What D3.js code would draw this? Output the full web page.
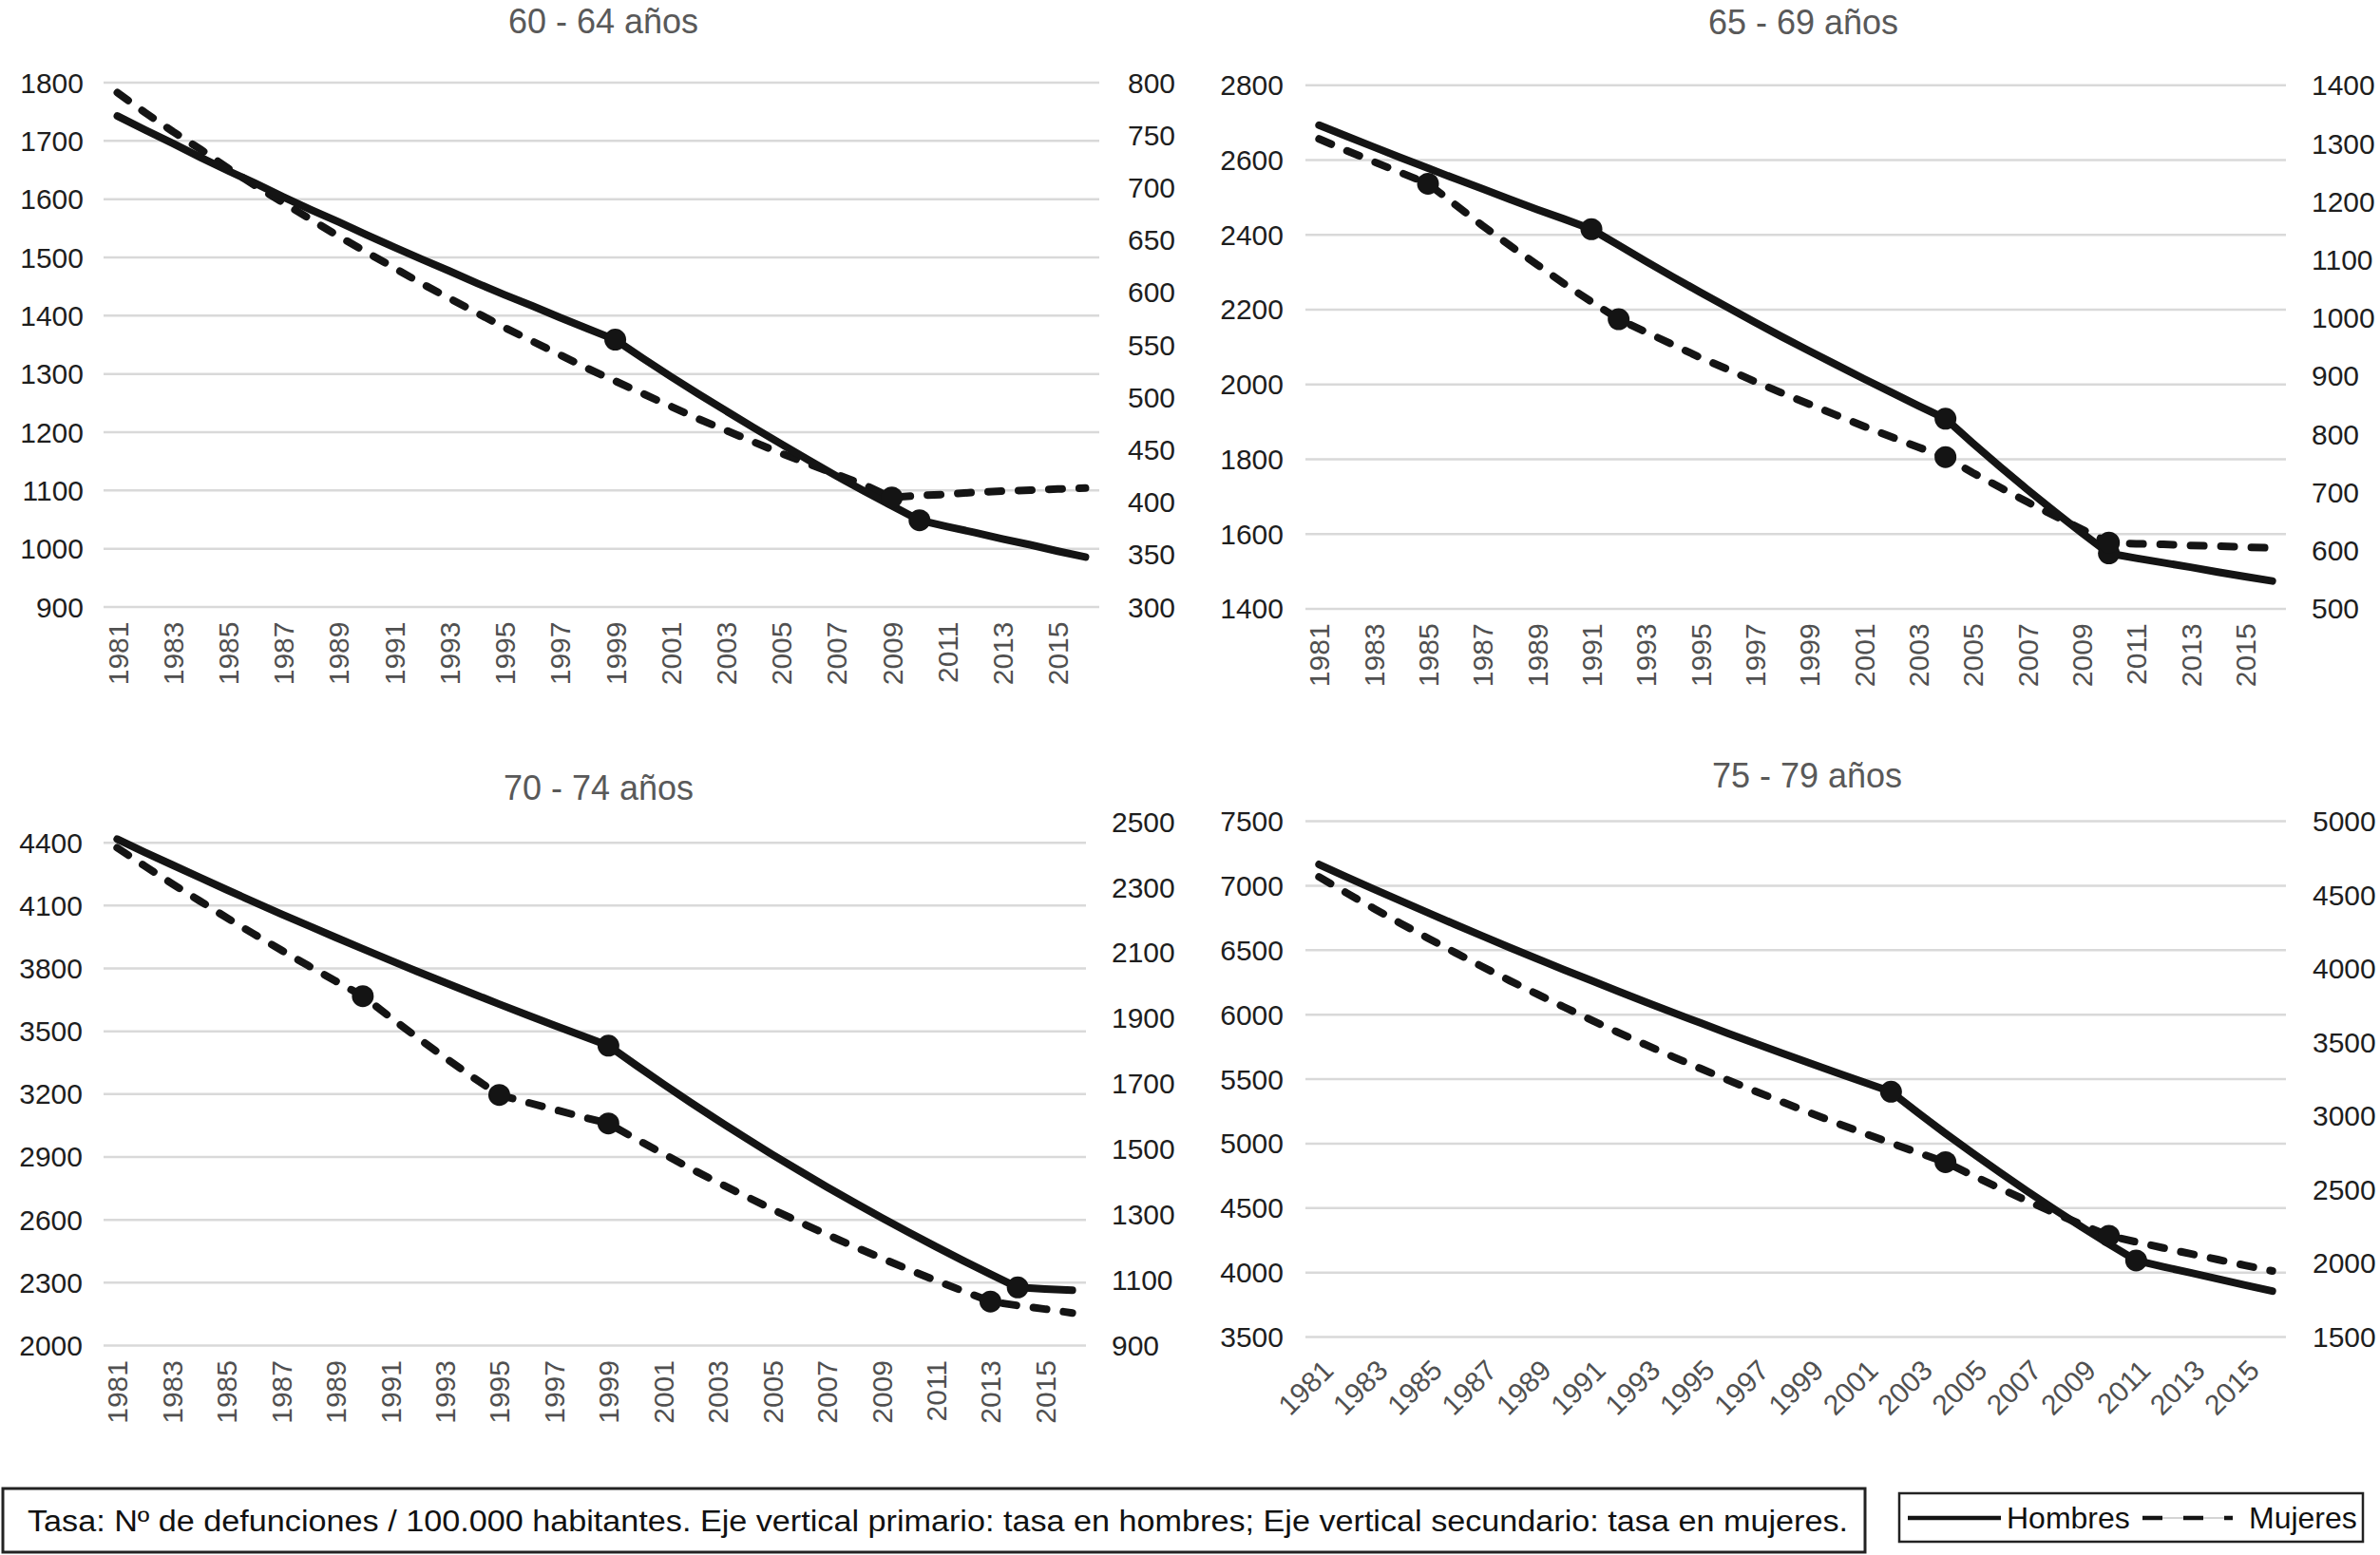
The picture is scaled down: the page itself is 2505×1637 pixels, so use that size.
<!DOCTYPE html>
<html><head><meta charset="utf-8">
<script src="https://cdn.jsdelivr.net/npm/d3@7"></script>
<style>
body{margin:0;background:#fff}
svg{display:block}
text{font-family:"Liberation Sans",Arial,Helvetica,sans-serif}
</style>
</head><body>
<svg id="chart" width="2505" height="1637"></svg>
<script>
// ---------------- DATA ----------------
const years = [1981,1982,1983,1984,1985,1986,1987,1988,1989,1990,1991,1992,1993,1994,1995,1996,1997,1998,1999,2000,2001,2002,2003,2004,2005,2006,2007,2008,2009,2010,2011,2012,2013,2014,2015,2016];
const xTickYears = [1981,1983,1985,1987,1989,1991,1993,1995,1997,1999,2001,2003,2005,2007,2009,2011,2013,2015];
const titles = ["60 - 64 años","65 - 69 años","70 - 74 años","75 - 79 años"];
const seriesNames = ["Hombres","Mujeres"];

const hombres6064 = [1742,1718,1695,1671,1648,1626,1603,1581,1560,1538,1517,1496,1476,1455,1435,1416,1396,1377,1358,1326,1295,1265,1236,1207,1179,1151,1124,1098,1073,1048,1037,1027,1016,1006,995,985];
const mujeres6064 = [790,771,753,736,718,701,685,669,653,638,623,608,594,580,566,553,540,527,515,503,491,479,468,457,446,436,426,416,404,406,407,409,410,411,412,413];
const hombres6569 = [2692,2663,2634,2605,2577,2549,2522,2494,2467,2441,2414,2371,2328,2286,2245,2205,2165,2126,2088,2051,2014,1978,1942,1907,1842,1779,1718,1659,1602,1547,1534,1522,1510,1497,1485,1473];
const mujeres6569 = [1307,1287,1268,1249,1230,1194,1158,1124,1091,1058,1027,997,975,953,931,911,890,870,851,832,813,795,777,760,733,708,683,659,636,613,611,610,608,607,605,604];
const hombres7074 = [4415,4353,4293,4233,4174,4116,4058,4002,3946,3891,3837,3783,3731,3679,3627,3577,3527,3478,3429,3337,3247,3159,3074,2991,2910,2832,2755,2681,2609,2538,2470,2403,2338,2275,2268,2262];
const mujeres7074 = [2419,2364,2310,2258,2206,2156,2107,2059,2012,1966,1902,1839,1779,1720,1664,1642,1620,1598,1577,1530,1485,1440,1397,1356,1315,1276,1238,1201,1166,1131,1097,1065,1033,1021,1010,998];
const hombres7579 = [7161,7065,6971,6878,6786,6695,6606,6517,6430,6344,6260,6176,6093,6012,5932,5852,5774,5697,5621,5546,5472,5398,5234,5075,4921,4772,4627,4486,4350,4218,4090,4041,3994,3946,3899,3853];
const mujeres7579 = [4619,4511,4406,4303,4203,4105,4009,3915,3824,3735,3647,3562,3479,3398,3319,3241,3166,3092,3020,2949,2880,2813,2747,2683,2593,2505,2421,2339,2260,2184,2142,2101,2061,2022,1983,1945];

// joinpoint years (markers)
const joinH6064 = [1999,2010];
const joinM6064 = [2009];
const joinH6569 = [1991,2004,2010];
const joinM6569 = [1985,1992,2004,2010];
const joinH7074 = [1999,2014];
const joinM7074 = [1990,1995,1999,2013];
const joinH7579 = [2002,2011];
const joinM7579 = [2004,2010];

// axis ticks
const leftTicks6064 = [900,1000,1100,1200,1300,1400,1500,1600,1700,1800];
const rightTicks6064 = [300,350,400,450,500,550,600,650,700,750,800];
const leftTicks6569 = [1400,1600,1800,2000,2200,2400,2600,2800];
const rightTicks6569 = [500,600,700,800,900,1000,1100,1200,1300,1400];
const leftTicks7074 = [2000,2300,2600,2900,3200,3500,3800,4100,4400];
const rightTicks7074 = [900,1100,1300,1500,1700,1900,2100,2300,2500];
const leftTicks7579 = [3500,4000,4500,5000,5500,6000,6500,7000,7500];
const rightTicks7579 = [1500,2000,2500,3000,3500,4000,4500,5000];
const leftDomain7074 = [2000,4500];

const footnote = "Tasa: Nº de defunciones / 100.000 habitantes. Eje vertical primario: tasa en hombres; Eje vertical secundario: tasa en mujeres.";

// ---------------- LAYOUT ----------------
const panels = [
  {title:titles[0], h:hombres6064, m:mujeres6064, jh:joinH6064, jm:joinM6064,
   lt:leftTicks6064, rt:rightTicks6064, ld:[900,1800], rd:[300,800],
   x0:109, x1:1157, yTop:86.5, yBot:638.5, lx:88, rx:1187, tx:635, ty:22, rot:-90},
  {title:titles[1], h:hombres6569, m:mujeres6569, jh:joinH6569, jm:joinM6569,
   lt:leftTicks6569, rt:rightTicks6569, ld:[1400,2800], rd:[500,1400],
   x0:1374, x1:2406, yTop:89.3, yBot:640.4, lx:1351, rx:2433, tx:1898, ty:23, rot:-90},
  {title:titles[2], h:hombres7074, m:mujeres7074, jh:joinH7074, jm:joinM7074,
   lt:leftTicks7074, rt:rightTicks7074, ld:leftDomain7074, rd:[900,2500],
   x0:109, x1:1143, yTop:864.6, yBot:1416, lx:87, rx:1170, tx:630, ty:829, rot:-90},
  {title:titles[3], h:hombres7579, m:mujeres7579, jh:joinH7579, jm:joinM7579,
   lt:leftTicks7579, rt:rightTicks7579, ld:[3500,7500], rd:[1500,5000],
   x0:1374, x1:2406, yTop:864, yBot:1407, lx:1351, rx:2434, tx:1902, ty:816, rot:-45}
];

const svg = d3.select("#chart");
const LINE = "#141414";

function cleanAxis(sel){
  sel.attr("font-family",null).attr("font-size",null);
  sel.select(".domain").remove();
}

panels.forEach(p => {
  const g = svg.append("g");
  const x = d3.scalePoint().domain(years).range([p.x0, p.x1]).padding(0.5);
  const yL = d3.scaleLinear().domain(p.ld).range([p.yBot, p.yTop]);
  const yR = d3.scaleLinear().domain(p.rd).range([p.yBot, p.yTop]);

  // gridlines
  const grid = g.append("g").attr("transform",`translate(${p.x0},0)`)
    .call(d3.axisLeft(yL).tickValues(p.lt).tickSize(-(p.x1-p.x0)).tickFormat(""));
  cleanAxis(grid);
  grid.selectAll("line").attr("stroke","#d9d9d9").attr("stroke-width",2.5);

  // left axis labels
  const la = g.append("g").attr("transform",`translate(${p.lx},0)`)
    .call(d3.axisLeft(yL).tickValues(p.lt).tickSize(0).tickPadding(0).tickFormat(d3.format("d")));
  cleanAxis(la);
  la.selectAll("text").attr("font-size",30).attr("fill","#1e1e1e").attr("dy","0.35em");

  // right axis labels
  const ra = g.append("g").attr("transform",`translate(${p.rx},0)`)
    .call(d3.axisRight(yR).tickValues(p.rt).tickSize(0).tickPadding(0).tickFormat(d3.format("d")));
  cleanAxis(ra);
  ra.selectAll("text").attr("font-size",30).attr("fill","#1e1e1e").attr("dy","0.35em");

  // x axis labels
  const xa = g.append("g").attr("transform",`translate(0,${p.yBot})`)
    .call(d3.axisBottom(x).tickValues(xTickYears).tickSize(0).tickPadding(0));
  cleanAxis(xa);
  const xt = xa.selectAll("text").attr("font-size",30).attr("fill","#505050")
    .attr("x",0).attr("y",0).attr("text-anchor","end").attr("dy","0.35em");
  if (p.rot === -90) xt.attr("transform","translate(0,16) rotate(-90)");
  else xt.attr("transform","translate(9,30) rotate(-45)");

  // title
  g.append("text").attr("x",p.tx).attr("y",p.ty).attr("dy","0.35em")
    .attr("text-anchor","middle").attr("font-size",36).attr("fill","#595959").text(p.title);

  const dh = years.map((yr,i)=>({year:yr, v:p.h[i]}));
  const dm = years.map((yr,i)=>({year:yr, v:p.m[i]}));

  // Mujeres (dashed, secondary axis)
  g.append("path").datum(dm)
    .attr("d", d3.line().x(d=>x(d.year)).y(d=>yR(d.v)))
    .attr("fill","none").attr("stroke",LINE).attr("stroke-width",8)
    .attr("stroke-dasharray","14 18").attr("stroke-linecap","round").attr("stroke-linejoin","round");
  // Hombres (solid, primary axis)
  g.append("path").datum(dh)
    .attr("d", d3.line().x(d=>x(d.year)).y(d=>yL(d.v)))
    .attr("fill","none").attr("stroke",LINE).attr("stroke-width",8)
    .attr("stroke-linejoin","round").attr("stroke-linecap","round");

  // markers
  g.selectAll(".mh").data(dh.filter(d=>p.jh.includes(d.year))).join("circle")
    .attr("cx",d=>x(d.year)).attr("cy",d=>yL(d.v)).attr("r",11.5).attr("fill",LINE);
  g.selectAll(".mm").data(dm.filter(d=>p.jm.includes(d.year))).join("circle")
    .attr("cx",d=>x(d.year)).attr("cy",d=>yR(d.v)).attr("r",11.5).attr("fill",LINE);
});

// ---------------- FOOTNOTE BOX ----------------
svg.append("rect").attr("x",3).attr("y",1567).attr("width",1960).attr("height",67)
  .attr("fill","none").attr("stroke","#222").attr("stroke-width",3);
svg.append("text").attr("x",29).attr("y",1601).attr("dy","0.35em")
  .attr("font-size",31).attr("fill","#111")
  .attr("textLength",1916).attr("lengthAdjust","spacingAndGlyphs")
  .text(footnote);

// ---------------- LEGEND ----------------
const lg = svg.append("g");
lg.append("rect").attr("x",1999).attr("y",1572).attr("width",488).attr("height",51)
  .attr("fill","none").attr("stroke","#222").attr("stroke-width",2.5);
lg.append("line").attr("x1",2008).attr("x2",2106).attr("y1",1598).attr("y2",1598)
  .attr("stroke",LINE).attr("stroke-width",4.5);
lg.append("text").attr("x",2112).attr("y",1598).attr("dy","0.35em")
  .attr("font-size",32).attr("fill","#111").text(seriesNames[0]);
lg.append("line").attr("x1",2255).attr("x2",2350).attr("y1",1598).attr("y2",1598)
  .attr("stroke","#aaa").attr("stroke-width",1);
lg.append("line").attr("x1",2255).attr("x2",2350).attr("y1",1598).attr("y2",1598)
  .attr("stroke",LINE).attr("stroke-width",4.5).attr("stroke-dasharray","21 22");
lg.append("text").attr("x",2367).attr("y",1598).attr("dy","0.35em")
  .attr("font-size",32).attr("fill","#111").text(seriesNames[1]);
</script>
</body></html>
